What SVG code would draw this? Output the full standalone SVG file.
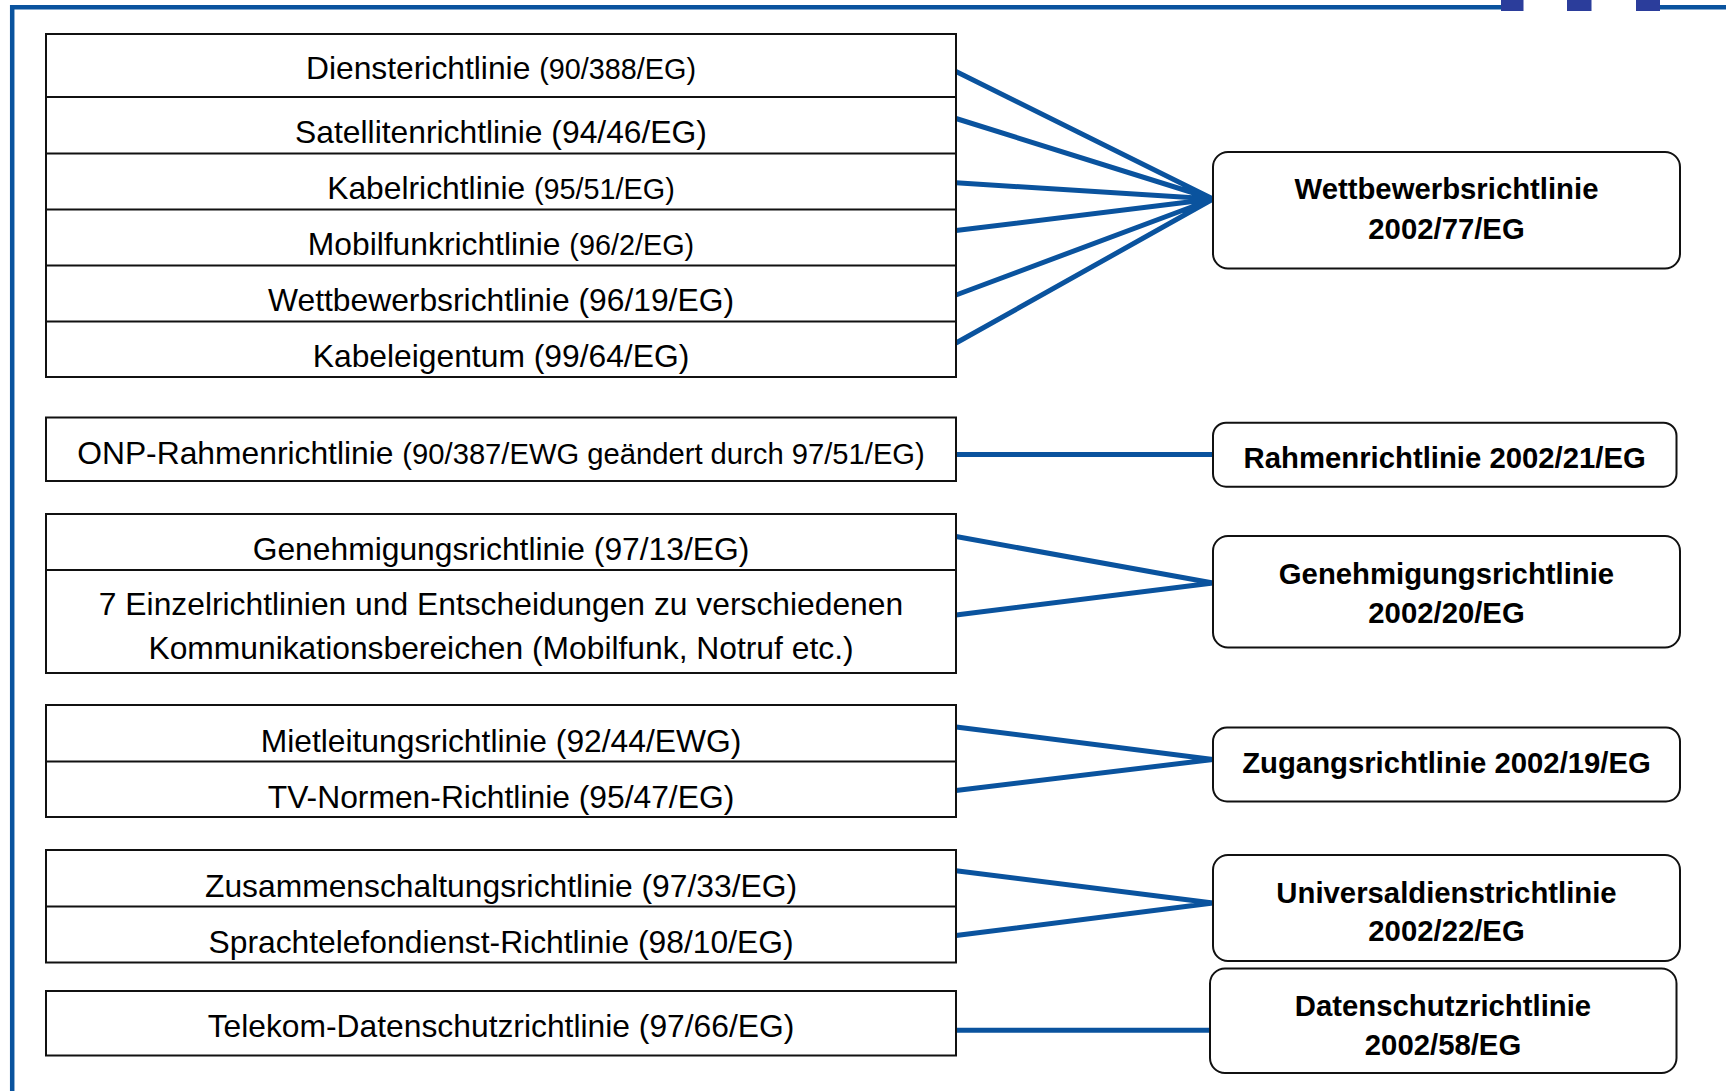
<svg xmlns="http://www.w3.org/2000/svg" width="1726" height="1091" viewBox="0 0 1726 1091">
<style>
  .frame{stroke:#0a539e;stroke-width:4.5;fill:none}
  .sq{fill:#2b3d9b}
  .lbox{fill:#fff;stroke:#111;stroke-width:2}
  .div{stroke:#111;stroke-width:2}
  .rbox{fill:#fff;stroke:#111;stroke-width:2}
  .lt{font-family:"Liberation Sans",Arial,sans-serif;font-size:31.8px;fill:#000;text-anchor:middle}
  .sm{font-size:28.8px}
  .onp{font-size:29.2px}
  .rt{font-family:"Liberation Sans",Arial,sans-serif;font-size:29.3px;font-weight:bold;fill:#000;text-anchor:middle}
  .con{stroke:#0a539e;stroke-width:5;fill:none;stroke-linecap:butt}
</style>
<rect width="1726" height="1091" fill="#fff"/>
<g id="frame">
  <path class="frame" d="M12.2 1091 V7.2 H1501 M1660 7.2 H1726"/>
  <rect class="sq" x="1501" y="0" width="22.5" height="11"/>
  <rect class="sq" x="1567" y="0" width="24.5" height="11"/>
  <rect class="sq" x="1636" y="0" width="24" height="11"/>
</g>
<g id="connectors">
  <path class="con" d="M956 71.5 L1213 199 M956 118.5 L1213 199 M956 182.7 L1213 199 M956 230.5 L1213 199 M956 295 L1213 199 M956 343 L1213 199"/>
  <path class="con" d="M956 454.5 H1213"/>
  <path class="con" d="M956 536.5 L1213 583 M956 615 L1213 583"/>
  <path class="con" d="M956 727 L1213 759.5 M956 790.6 L1213 759.5"/>
  <path class="con" d="M956 870.7 L1213 903 M956 935.5 L1213 903"/>
  <path class="con" d="M956 1030.3 H1210"/>
</g>
<g id="old-group-1">
  <rect class="lbox" x="46" y="34" width="910" height="343"/>
  <path class="div" d="M46 97 H956 M46 153.5 H956 M46 209.5 H956 M46 265.5 H956 M46 321.5 H956"/>
  <text class="lt" x="501" y="79">Diensterichtlinie <tspan class="sm">(90/388/EG)</tspan></text>
  <text class="lt" x="501" y="142.5">Satellitenrichtlinie (94/46/EG)</text>
  <text class="lt" x="501" y="198.5">Kabelrichtlinie <tspan class="sm">(95/51/EG)</tspan></text>
  <text class="lt" x="501" y="254.5">Mobilfunkrichtlinie <tspan class="sm">(96/2/EG)</tspan></text>
  <text class="lt" x="501" y="310.5">Wettbewerbsrichtlinie (96/19/EG)</text>
  <text class="lt" x="501" y="366.5">Kabeleigentum (99/64/EG)</text>
</g>
<g id="old-onp">
  <rect class="lbox" x="46" y="417.5" width="910" height="63.5"/>
  <text class="lt" x="501" y="463.5">ONP-Rahmenrichtlinie <tspan class="onp">(90/387/EWG geändert durch 97/51/EG)</tspan></text>
</g>
<g id="old-genehmigung">
  <rect class="lbox" x="46" y="514" width="910" height="159"/>
  <path class="div" d="M46 570 H956"/>
  <text class="lt" x="501" y="559.5">Genehmigungsrichtlinie (97/13/EG)</text>
  <text class="lt" x="501" y="614.5">7 Einzelrichtlinien und Entscheidungen zu verschiedenen</text>
  <text class="lt" x="501" y="659">Kommunikationsbereichen (Mobilfunk, Notruf etc.)</text>
</g>
<g id="old-zugang">
  <rect class="lbox" x="46" y="705" width="910" height="112"/>
  <path class="div" d="M46 761.5 H956"/>
  <text class="lt" x="501" y="752">Mietleitungsrichtlinie (92/44/EWG)</text>
  <text class="lt" x="501" y="808">TV-Normen-Richtlinie (95/47/EG)</text>
</g>
<g id="old-universal">
  <rect class="lbox" x="46" y="850" width="910" height="112.5"/>
  <path class="div" d="M46 906.5 H956"/>
  <text class="lt" x="501" y="897">Zusammenschaltungsrichtlinie (97/33/EG)</text>
  <text class="lt" x="501" y="953">Sprachtelefondienst-Richtlinie (98/10/EG)</text>
</g>
<g id="old-datenschutz">
  <rect class="lbox" x="46" y="991" width="910" height="64.5"/>
  <text class="lt" x="501" y="1037">Telekom-Datenschutzrichtlinie (97/66/EG)</text>
</g>
<g id="new-wettbewerb">
  <rect class="rbox" x="1213" y="152" width="467" height="116.5" rx="15"/>
  <text class="rt" x="1446.5" y="199">Wettbewerbsrichtlinie</text>
  <text class="rt" x="1446.5" y="239">2002/77/EG</text>
</g>
<g id="new-rahmen">
  <rect class="rbox" x="1213" y="422.7" width="463.5" height="64" rx="13"/>
  <text class="rt" x="1444.7" y="468">Rahmenrichtlinie 2002/21/EG</text>
</g>
<g id="new-genehmigung">
  <rect class="rbox" x="1213" y="536" width="467" height="111.5" rx="15"/>
  <text class="rt" x="1446.5" y="583.5">Genehmigungsrichtlinie</text>
  <text class="rt" x="1446.5" y="623">2002/20/EG</text>
</g>
<g id="new-zugang">
  <rect class="rbox" x="1213" y="727.5" width="467" height="74" rx="14"/>
  <text class="rt" x="1446.5" y="772.5">Zugangsrichtlinie 2002/19/EG</text>
</g>
<g id="new-universal">
  <rect class="rbox" x="1213" y="855" width="467" height="106" rx="15"/>
  <text class="rt" x="1446.5" y="902.5">Universaldienstrichtlinie</text>
  <text class="rt" x="1446.5" y="941">2002/22/EG</text>
</g>
<g id="new-datenschutz">
  <rect class="rbox" x="1210" y="968.5" width="466.5" height="104.5" rx="15"/>
  <text class="rt" x="1443" y="1016">Datenschutzrichtlinie</text>
  <text class="rt" x="1443" y="1055">2002/58/EG</text>
</g>
</svg>
